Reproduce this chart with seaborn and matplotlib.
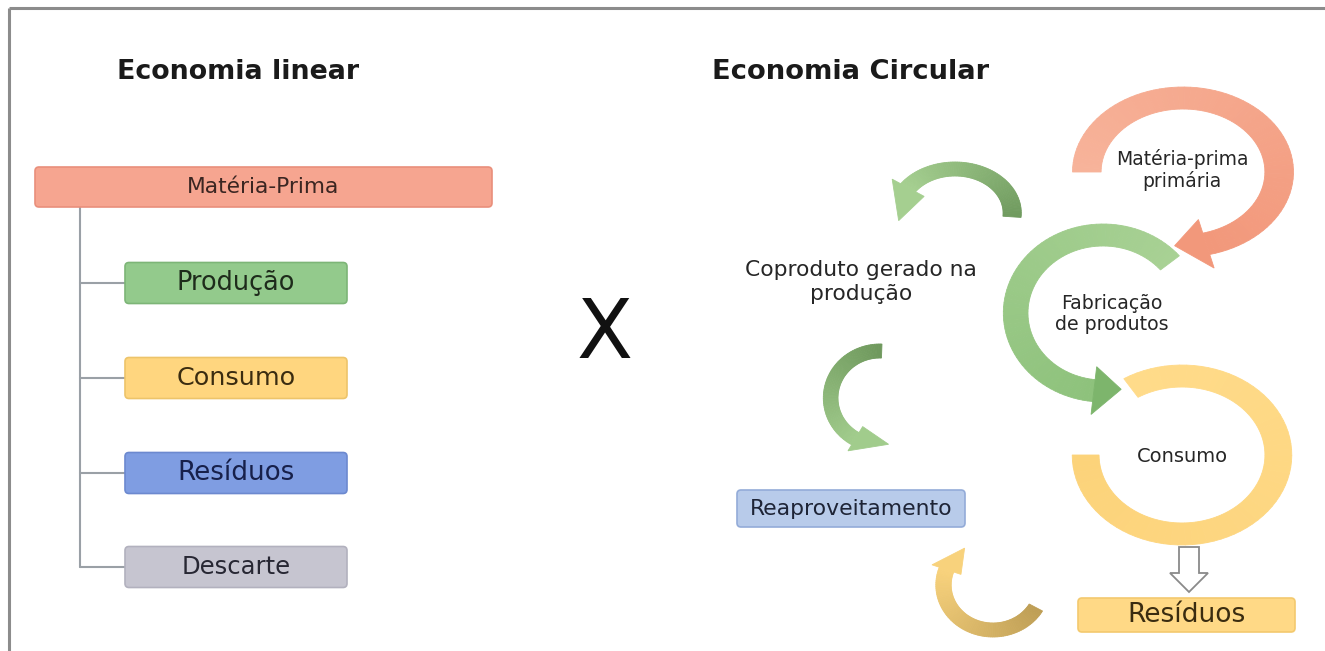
import numpy as np
import matplotlib
matplotlib.use("Agg")
import matplotlib.pyplot as plt
from matplotlib.patches import FancyBboxPatch, Polygon
from matplotlib.colors import to_rgb
import seaborn as sns

# ---------------- content ----------------
title_linear = "Economia linear"
title_circular = "Economia Circular"
linear_top_label = "Matéria-Prima"
linear_labels = ["Produção", "Consumo", "Resíduos", "Descarte"]
linear_colors = ["#93CA8C", "#FFD67F", "#7F9DE2", "#C6C5D0"]
linear_edges = ["#7DB577", "#EDC46A", "#6C89CF", "#B2B1BE"]
linear_text_colors = ["#1E2B1B", "#3A2C10", "#17204A", "#272733"]
circular_labels = ["Matéria-prima\nprimária", "Fabricação\nde produtos", "Consumo"]
coproduct_label = "Coproduto gerado na\nprodução"
reuse_label = "Reaproveitamento"
waste_label = "Resíduos"

# ---------------- style ----------------
sns.set_theme(style="white")
plt.rcParams["font.family"] = ["DejaVu Sans"]

W, H = 1325, 651
fig = plt.figure(figsize=(W / 100, H / 100), dpi=100)
fig.patch.set_facecolor("white")
ax = fig.add_axes([0, 0, 1, 1])
ax.set_xlim(0, W)
ax.set_ylim(H, 0)
ax.axis("off")
renderer = fig.canvas.get_renderer()


def fit_text(x, y, s, target_w, **kw):
    t = ax.text(x, y, s, fontsize=10, ha="center", va="center", **kw)
    bb = t.get_window_extent(renderer=renderer)
    t.set_fontsize(10 * target_w / bb.width)
    return t


def box(x0, y0, w, h, fc, ec, z=2, r=4):
    p = FancyBboxPatch((x0, y0), w, h, boxstyle=f"round,pad=0,rounding_size={r}",
                       fc=fc, ec=ec, lw=1.2, zorder=z)
    ax.add_patch(p)


def mix(c0, c1, f):
    a, b = np.array(to_rgb(c0)), np.array(to_rgb(c1))
    return tuple(a + (b - a) * f)


def arc_arrow(cx, cy, r, aspect, w, t_tail, t_head, t_tip, head_w,
              c0, c1, chead, z, n=80):
    def pt(t, rr):
        tr = np.radians(t)
        return (cx + aspect * rr * np.cos(tr), cy - rr * np.sin(tr))
    ts = np.linspace(t_tail, t_head, n)
    for i in range(n - 1):
        col = mix(c0, c1, i / (n - 2))
        poly = [pt(ts[i], r + w / 2), pt(ts[i + 1], r + w / 2),
                pt(ts[i + 1], r - w / 2), pt(ts[i], r - w / 2)]
        ax.add_patch(Polygon(poly, closed=True, fc=col, ec=col, lw=0.6, zorder=z))
    if t_tip is not None:
        head = [pt(t_head, r + head_w / 2), pt(t_tip, r), pt(t_head, r - head_w / 2)]
        ax.add_patch(Polygon(head, closed=True, fc=chead, ec=chead, lw=0.6, zorder=z + 0.1))


# ---------------- frame ----------------
ax.plot([9, W], [8, 8], color="#8C8C8C", lw=2.2, solid_capstyle="butt", zorder=1)
ax.plot([9, 9], [8, H], color="#8C8C8C", lw=2.2, solid_capstyle="butt", zorder=1)

# ---------------- titles ----------------
fit_text(238, 72, title_linear, 243, fontweight="bold", color="#1A1A1A")
fit_text(851, 72, title_circular, 278, fontweight="bold", color="#1A1A1A")

# ---------------- linear economy ----------------
box(35, 167, 457, 40, "#F6A590", "#E98F7B")
fit_text(263, 187, linear_top_label, 153, color="#3B2622")

row_y = [283, 378, 473, 567]
ax.plot([80, 80], [207, row_y[-1]], color="#9AA0A6", lw=1.5, zorder=1)
widths = [119, 119, 117, 109]
for yc, lab, fc, ec, tc, tw in zip(row_y, linear_labels, linear_colors,
                                   linear_edges, linear_text_colors, widths):
    ax.plot([80, 125], [yc, yc], color="#9AA0A6", lw=1.5, zorder=1)
    box(125, yc - 20.5, 222, 41, fc, ec)
    fit_text(236, yc, lab, tw, color=tc)

fit_text(605, 335, "X", 56, color="#111111")

# ---------------- circular economy ----------------
# yellow ring (consumo)
arc_arrow(1182, 455, 79, 1.22, 22, -180, 122, None, 0,
          "#FCD37A", "#FFDB8A", "#FFDB8A", 3)
# green ring (fabricação)
arc_arrow(1103, 313, 78, 1.12, 22, 40, 264, 282, 48,
          "#A8D194", "#8EC27C", "#7DB56C", 4)
# salmon ring (matéria-prima)
arc_arrow(1183, 172, 74, 1.3, 22, 180, -76, -95, 50,
          "#F7B39A", "#F2987B", "#F2987B", 5)

# small arrows
arc_arrow(955, 213, 44, 1.3, 14, -5, 145, 190, 30,
          "#6F9A5E", "#A5CF90", "#A5CF90", 4)
arc_arrow(880, 398, 47, 1.05, 14, 88, 240, 280, 28,
          "#6E985C", "#A1CC8C", "#A1CC8C", 4)
arc_arrow(993, 585, 45, 1.1, 14, -30, -200, -235, 28,
          "#BE9E55", "#F8D27C", "#F8D27C", 4)

fit_text(1182, 170, circular_labels[0], 133, color="#262626", linespacing=1.15)
fit_text(1112, 314, circular_labels[1], 113, color="#262626", linespacing=1.15)
fit_text(1182, 457, circular_labels[2], 91, color="#262626")
fit_text(861, 282, coproduct_label, 232, color="#262626", linespacing=1.25)

box(737, 490, 228, 37, "#B8CBEA", "#93ABD8")
fit_text(851, 509, reuse_label, 202, color="#1E2436")

# hollow down arrow
ax.add_patch(Polygon([(1179, 547), (1199, 547), (1199, 573), (1208, 573),
                      (1189, 592), (1170, 573), (1179, 573)], closed=True,
                     fc="white", ec="#8A8A8A", lw=1.3, zorder=3))

box(1078, 598, 217, 34, "#FFD986", "#F3C96E")
fit_text(1186, 615, waste_label, 118, color="#3A2C10")

fig.savefig("out.png", dpi=100, facecolor="white")
